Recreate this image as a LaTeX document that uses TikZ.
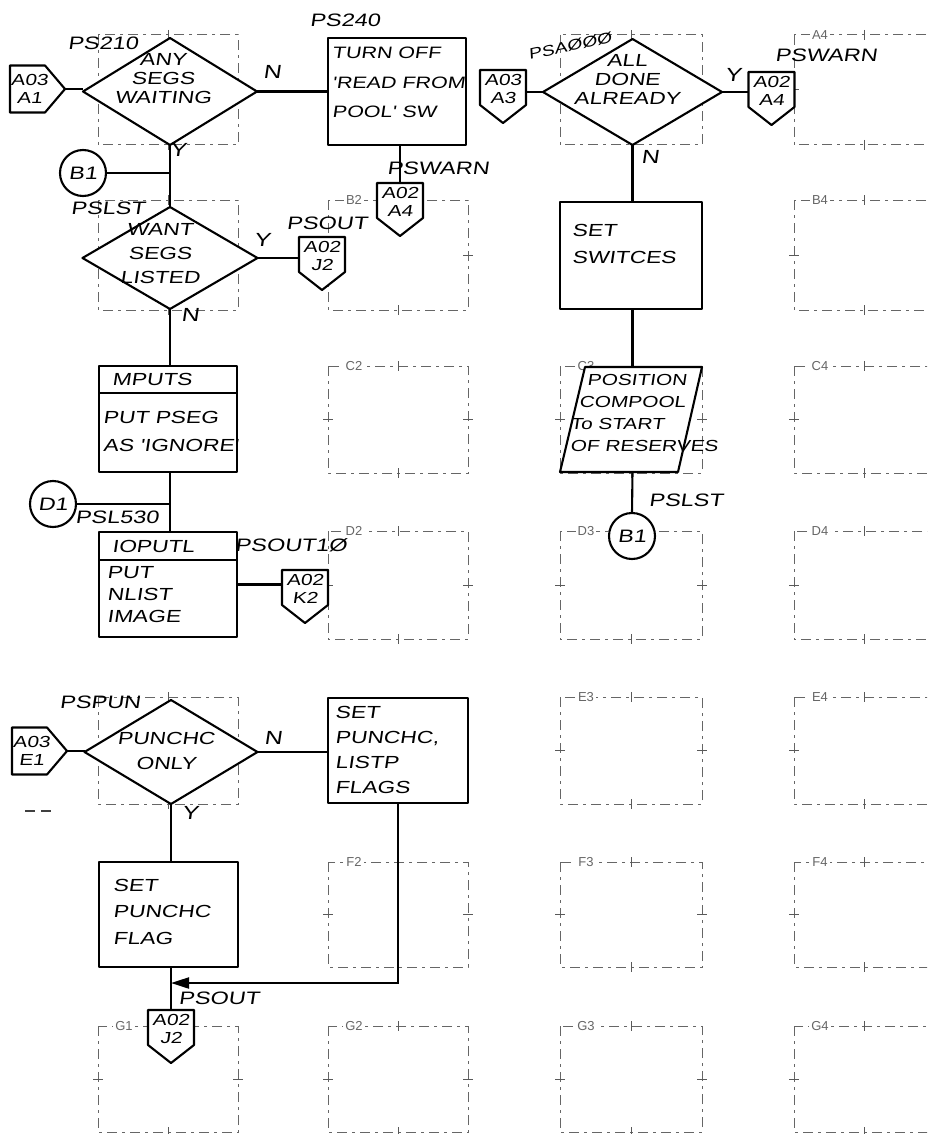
\documentclass[tikz,border=0pt]{standalone}
\usepackage{fontspec}
\usetikzlibrary{shapes.geometric,arrows.meta,calc}
\newfontfamily\handfont[FakeStretch=1.3,FakeSlant=0.15]{Liberation Sans}
\newfontfamily\gridfont{Liberation Sans}
\newcommand\hf[2]{\handfont\fontsize{#1}{#2}\selectfont}

\tikzset{
  flow/.style={line width=2.1pt, draw=black},
  shp/.style={line width=2.1pt, draw=black, fill=white, line join=round},
  procbox/.style={shp, rectangle, inner sep=0pt, outer sep=0pt},
  dia/.style={shp, diamond, inner sep=0pt, outer sep=0pt},
  circ/.style={shp, circle, minimum size=46pt, inner sep=0pt, outer sep=0pt, font=\hf{18}{18}},
  dconnbox/.style={rectangle, draw=none, minimum width=46pt, minimum height=53pt, inner sep=0pt, outer sep=0pt},
  rconnbox/.style={rectangle, draw=none, minimum width=55pt, minimum height=47pt, inner sep=0pt, outer sep=0pt},
  conntext/.style={inner sep=0pt, align=center, font=\hf{16}{18}},
  htxt/.style={inner sep=0pt, align=left},
  ctxt/.style={inner sep=0pt, align=center},
  lbl/.style={inner sep=0pt, font=\hf{18}{18}},
  yn/.style={inner sep=0pt, font=\hf{19}{19}},
  gridln/.style={draw=black!60, line width=1pt, dash pattern=on 10pt off 5pt on 3pt off 5pt},
  gridtk/.style={draw=black!65, line width=1pt},
  glbl/.style={fill=white, inner sep=2pt, text=black!60, font=\gridfont\fontsize{13}{13}\selectfont},
}

% grid box without label: x1 y1 x2 y2
\newcommand\myGbox[4]{%
  \draw[gridln] (#1,#2) rectangle (#3,#4);
  \draw[gridtk] ({(#1+#3)/2},#2-5) -- ({(#1+#3)/2},#2+5);
  \draw[gridtk] ({(#1+#3)/2},#4-5) -- ({(#1+#3)/2},#4+5);
  \draw[gridtk] (#1-5,{(#2+#4)/2}) -- (#1+5,{(#2+#4)/2});
  \draw[gridtk] (#3-5,{(#2+#4)/2}) -- (#3+5,{(#2+#4)/2});
}
% grid box with label
\newcommand\myGboxL[5]{%
  \myGbox{#1}{#2}{#3}{#4}
  \node[glbl] (g#5) at (#1+26,#2) {#5};
}
% downward off-page connector: name, centre x, top y, line1, line2
\newcommand\myDconn[5]{%
  \node[dconnbox, anchor=north] (#1) at (#2,#3) {};
  \filldraw[shp] (#1.north west) -- (#1.north east) -- ([yshift=-35pt]#1.north east)
     -- (#1.south) -- ([yshift=-35pt]#1.north west) -- cycle;
  \node[conntext] (#1t) at ([yshift=-19pt]#1.north) {#4\\#5};
}
% rightward off-page connector: name, left x, centre y, line1, line2
\newcommand\myRconn[5]{%
  \node[rconnbox, anchor=west] (#1) at (#2,#3) {};
  \filldraw[shp] (#1.north west) -- ([xshift=35pt]#1.north west) -- (#1.east)
     -- ([xshift=35pt]#1.south west) -- (#1.south west) -- cycle;
  \node[conntext] (#1t) at ([xshift=-8pt]#1.center) {#4\\#5};
}

\begin{document}
\begin{tikzpicture}[x=1pt,y=-1pt]
\clip (0,0) rectangle (927,1134);
\fill[white] (0,0) rectangle (927,1134);

% ---------------- background grid ----------------
\myGbox{98}{35}{238}{145}
\myGbox{560}{35}{702}{145}
\myGboxL{794}{35}{934}{145}{A4}
\myGbox{98}{200}{238}{310}
\myGboxL{328}{200}{468}{310}{B2}
\myGboxL{794}{200}{934}{310}{B4}
\myGboxL{328}{366}{468}{473}{C2}
\myGboxL{560}{366}{702}{473}{C3}
\myGboxL{794}{366}{934}{473}{C4}
\myGboxL{328}{531}{468}{639}{D2}
\myGboxL{560}{531}{702}{639}{D3}
\myGboxL{794}{531}{934}{639}{D4}
\myGbox{98}{697}{238}{804}
\myGboxL{560}{697}{702}{804}{E3}
\myGboxL{794}{697}{934}{804}{E4}
\myGboxL{328}{862}{468}{967}{F2}
\myGboxL{560}{862}{702}{967}{F3}
\myGboxL{794}{862}{934}{967}{F4}
\myGboxL{98}{1026}{238}{1132}{G1}
\myGboxL{328}{1026}{468}{1132}{G2}
\myGboxL{560}{1026}{702}{1132}{G3}
\myGboxL{794}{1026}{934}{1132}{G4}
\coordinate (s1) at (25,811);
\coordinate (s2) at (53,811);
\draw[black!75, line width=1.3pt, dash pattern=on 10pt off 6pt] (s1) -- (s2);

\coordinate (m1) at (398,983);

% ---------------- left column, rows A-D ----------------
\myRconn{a1}{10}{89}{A03}{A1}
\node[dia, minimum width=174pt, minimum height=107pt] (d1) at (170,91.5) {};
\node[ctxt, font=\hf{17.5}{19}] (d1t) at (163,79) {ANY\\SEGS\\WAITING};
\node[procbox, minimum width=138pt, minimum height=107pt] (ps240) at (397,91.5) {};
\node[htxt, font=\hf{16.5}{29.5}, anchor=west] (ps240t) at (332,82.5) {TURN OFF\\'READ FROM\\POOL' SW};
\myDconn{a4b}{400}{183}{A02}{A4}

\node[circ] (b1c) at (83,173) {B1};
\node[dia, minimum width=175pt, minimum height=102pt] (d2) at (170,258) {};
\node[ctxt, font=\hf{17.5}{24}] (d2t) at (160,254) {WANT\\SEGS\\LISTED};
\myDconn{j2a}{322}{237}{A02}{J2}

\node[procbox, minimum width=138pt, minimum height=106pt] (mputs) at (168,419) {};
\draw[flow] ([yshift=-27pt]mputs.north west) -- ([yshift=-27pt]mputs.north east);
\node[htxt, font=\hf{17.5}{17}, anchor=west] (mputst) at (112,379) {MPUTS};
\node[htxt, font=\hf{17.5}{28}, anchor=west] (mputsb) at (103,431) {PUT PSEG\\AS 'IGNORE'};

\node[circ] (d1c) at (53,504) {D1};
\node[procbox, minimum width=138pt, minimum height=105pt] (ioputl) at (168,584.5) {};
\draw[flow] ([yshift=-28pt]ioputl.north west) -- ([yshift=-28pt]ioputl.north east);
\node[htxt, font=\hf{17.5}{17}, anchor=west] (ioputlt) at (112,546) {IOPUTL};
\node[htxt, font=\hf{17.5}{22}, anchor=west] (ioputlb) at (107,595) {PUT\\NLIST\\IMAGE};
\myDconn{k2}{305}{570}{A02}{K2}

% ---------------- right column ----------------
\myDconn{a3}{503}{70}{A03}{A3}
\node[dia, minimum width=179pt, minimum height=106pt] (d3) at (632.5,92) {};
\node[ctxt, font=\hf{17.5}{19}] (d3t) at (627,79) {ALL\\DONE\\ALREADY};
\myDconn{a4r}{771.5}{72}{A02}{A4}
\node[procbox, minimum width=142pt, minimum height=107pt] (setsw) at (631,255.5) {};
\node[htxt, font=\hf{17.5}{27}, anchor=west] (setswt) at (572,243.5) {SET\\SWITCES};
\node[rectangle, draw=none, minimum width=142pt, minimum height=105pt, inner sep=0pt, outer sep=0pt] (para) at (631,419.5) {};
\filldraw[shp] ([xshift=25pt]para.north west) -- (para.north east) -- ([xshift=-24pt]para.south east) -- (para.south west) -- cycle;
\node[htxt, font=\hf{16}{21.7}, anchor=west] (parat) at (570,413) {\hspace*{17pt}POSITION\\\hspace*{9pt}COMPOOL\\To START\\OF RESERVES};
\node[circ] (b1r) at (632,536) {B1};

% ---------------- rows E-G ----------------
\myRconn{e1}{12}{751}{A03}{E1}
\node[dia, minimum width=173pt, minimum height=104pt] (d4) at (171,752) {};
\node[ctxt, font=\hf{17.5}{25}] (d4t) at (166,750.5) {PUNCHC\\ONLY};
\node[procbox, minimum width=140pt, minimum height=105pt] (setpl) at (398,750.5) {};
\node[htxt, font=\hf{17.5}{25}, anchor=west] (setplt) at (335,749.5) {SET\\PUNCHC,\\LISTP\\FLAGS};
\node[procbox, minimum width=139pt, minimum height=105pt] (setpf) at (168.5,914.5) {};
\node[htxt, font=\hf{17.5}{26.5}, anchor=west] (setpft) at (113,911.5) {SET\\PUNCHC\\FLAG};
\myDconn{j2b}{171}{1010}{A02}{J2}

% ---------------- flow lines ----------------
\draw[flow] (a1.east) -- (a1.east -| d1.west);
\draw[flow] (d1.east) -- (d1.east -| ps240.west);
\draw[flow] (ps240.south -| a4b.north) -- (a4b.north);
\draw[flow] (d1.south) -- (d2.north);
\draw[flow] (b1c.east) -- (b1c.east -| d1.south);
\draw[flow] (d2.east) -- (d2.east -| j2a.west);
\draw[flow] (d2.south) -- (d2.south |- mputs.north);
\draw[flow] (d2.south |- mputs.south) -- (d2.south |- ioputl.north);
\draw[flow] (d1c.east) -- (d1c.east -| d2.south);
\draw[flow] (ioputl.east) -- (ioputl.east -| k2.west);
\draw[flow] (a3.east |- d3.west) -- (d3.west);
\draw[flow] (d3.east) -- (d3.east -| a4r.west);
\draw[flow] (d3.south) -- (d3.south |- setsw.north);
\draw[flow] (d3.south |- setsw.south) -- (d3.south |- para.north);
\draw[flow] (d3.south |- para.south) -- (b1r.north);
\draw[flow] (e1.east) -- (e1.east -| d4.west);
\draw[flow] (d4.east) -- (d4.east -| setpl.west);
\draw[flow] (d4.south) -- (d4.south |- setpf.north);
\draw[flow] (d4.south |- setpf.south) -- (j2b.north);
\draw[flow, -{Triangle[length=18pt,width=11pt]}] (setpl.south) -- (m1) -- (m1 -| d4.south);

% ---------------- labels ----------------
\node[lbl] (l1) at (103,43) {PS210};
\node[lbl] (l2) at (345,20) {PS240};
\node[lbl] (l3) at (438,168) {PSWARN};
\node[lbl] (l4) at (108,208) {PSLST};
\node[lbl] (l5) at (327,223) {PSOUT};
\node[lbl, font=\hf{15}{15}, rotate=12] (l6) at (570,46) {PSAØØØ};
\node[lbl] (l7) at (826,55) {PSWARN};
\node[lbl] (l8) at (117,517) {PSL530};
\node[lbl] (l9) at (291,545) {PSOUT1Ø};
\node[lbl] (l10) at (686,500) {PSLST};
\node[lbl] (l11) at (100,702) {PSPUN};
\node[lbl] (l12) at (219,998) {PSOUT};

\node[yn] (n1) at (272,72) {N};
\node[yn] (y1) at (178,150) {Y};
\node[yn] (y2) at (262,240) {Y};
\node[yn] (n2) at (190,315) {N};
\node[yn] (y3) at (733,75) {Y};
\node[yn] (n3) at (650,157) {N};
\node[yn] (n4) at (273,738) {N};
\node[yn] (y4) at (190,813) {Y};
\end{tikzpicture}
\end{document}
